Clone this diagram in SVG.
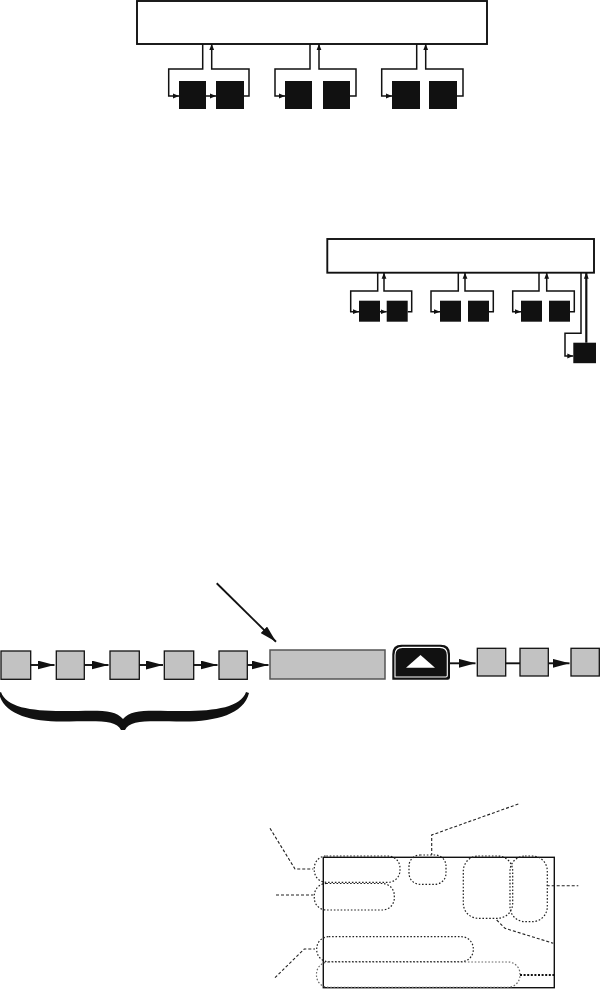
<svg xmlns="http://www.w3.org/2000/svg" width="602" height="989" viewBox="0 0 602 989">
<style>
.box{fill:#fff;stroke:#111;stroke-width:1.9}
.blk{fill:#111;stroke:none}
.ln{fill:none;stroke:#111;stroke-width:1.5}
.gsq{fill:#c2c2c2;stroke:#111;stroke-width:1.3}
.cl{fill:none;stroke:#111;stroke-width:1.9}
.dot{fill:none;stroke:#222;stroke-width:1.2;stroke-dasharray:1.6 1.8}
.dsh{fill:none;stroke:#222;stroke-width:1.1;stroke-dasharray:3 2}
</style>
<defs>
<marker id="sa" viewBox="0 0 6 6" refX="6" refY="3" markerWidth="6" markerHeight="6" markerUnits="userSpaceOnUse" orient="auto">
<path d="M0,0.6 L6,3 L0,5.4 Z" fill="#111"/>
</marker>
<marker id="la" viewBox="0 0 17 9" refX="17" refY="4.5" markerWidth="17" markerHeight="9" markerUnits="userSpaceOnUse" orient="auto">
<path d="M0,0 L17,4.5 L0,9 Z" fill="#111"/>
</marker>
</defs>

<g id="top-diagram">
<rect id="top-box" class="box" x="137" y="1" width="350" height="43"/>
<g id="top-nodes">
<rect class="blk" x="179" y="81" width="27" height="28"/>
<rect class="blk" x="216" y="81" width="28" height="28"/>
<rect class="blk" x="285" y="81" width="27" height="28"/>
<rect class="blk" x="323" y="81" width="27" height="28"/>
<rect class="blk" x="392" y="81" width="28" height="28"/>
<rect class="blk" x="429" y="81" width="28" height="28"/>
</g>
<g id="top-connectors">
<path class="ln" d="M202.7,44 V69 H168.7 V96 H179" marker-end="url(#sa)"/>
<path class="ln" d="M206,96 H216" marker-end="url(#sa)"/>
<path class="ln" d="M244,96 H249 V69 H211.7 V44" marker-end="url(#sa)"/>
<path class="ln" d="M310,44 V69 H275 V96 H285" marker-end="url(#sa)"/>
<path class="ln" d="M350,96 H356 V69 H319 V44" marker-end="url(#sa)"/>
<path class="ln" d="M416.7,44 V69 H381.7 V96 H392" marker-end="url(#sa)"/>
<path class="ln" d="M457,96 H463 V69 H425.7 V44" marker-end="url(#sa)"/>
</g>
</g>

<g id="middle-diagram">
<rect id="mid-box" class="box" x="327.3" y="239" width="266.7" height="33.7"/>
<g id="mid-nodes">
<rect class="blk" x="359" y="300.7" width="21" height="21"/>
<rect class="blk" x="386.7" y="300.7" width="21" height="21"/>
<rect class="blk" x="440" y="300.7" width="21" height="21"/>
<rect class="blk" x="468" y="300.7" width="21" height="21"/>
<rect class="blk" x="521" y="300.7" width="21" height="21"/>
<rect class="blk" x="549" y="300.7" width="21" height="21"/>
<rect class="blk" x="573.3" y="342.7" width="22.7" height="20.5"/>
</g>
<g id="mid-connectors">
<path class="ln" d="M377.7,272.7 V291 H350.7 V311.7 H359" marker-end="url(#sa)"/>
<path class="ln" d="M380,311.7 H386.7" marker-end="url(#sa)"/>
<path class="ln" d="M407.7,311.7 H411.7 V291 H384 V272.7" marker-end="url(#sa)"/>
<path class="ln" d="M458.3,272.7 V291 H431 V311.7 H440" marker-end="url(#sa)"/>
<path class="ln" d="M489,311.7 H493.3 V291 H465 V272.7" marker-end="url(#sa)"/>
<path class="ln" d="M539,272.7 V291 H512.7 V311.7 H521" marker-end="url(#sa)"/>
<path class="ln" d="M570,311.7 H574.3 V291 H546.7 V272.7" marker-end="url(#sa)"/>
<path class="ln" d="M581,272.7 V333.3 H565 V356 H573.3" marker-end="url(#sa)"/>
<path class="ln" style="stroke-width:2.2" d="M586.3,342.7 V272.7" marker-end="url(#sa)"/>
</g>
</g>

<g id="chain">
<g id="chain-nodes">
<rect class="gsq" x="1" y="651" width="29.7" height="28.3"/>
<rect class="gsq" x="56.3" y="651" width="28" height="28.3"/>
<rect class="gsq" x="110" y="651" width="29.3" height="28.3"/>
<rect class="gsq" x="164.3" y="651" width="29.4" height="28.3"/>
<rect class="gsq" x="219" y="651" width="28.3" height="28.3"/>
<rect id="long-rect" x="270" y="650" width="115" height="29" fill="#c2c2c2" stroke="#555" stroke-width="1.5"/>
<g id="button">
<path d="M392.3,679.7 V654 Q392.3,644.7 401.5,644.7 H440.8 Q450,644.7 450,654 V677.5 Q450,679.7 447.8,679.7 Z" fill="#111"/>
<path d="M395,677 V655 Q395,647.4 402.5,647.4 H439.8 Q447.3,647.4 447.3,655 V675.5 Q447.3,677 445.8,677 Z" fill="none" stroke="#fff" stroke-width="1.1"/>
<path d="M406,667.7 L420.5,655 L435,667.7 Z" fill="#fff"/>
</g>
<rect class="gsq" x="477.3" y="648.3" width="28.4" height="27.7"/>
<rect class="gsq" x="520" y="648.3" width="28.3" height="27.7"/>
<rect class="gsq" x="571" y="648.3" width="28.3" height="27.7"/>
</g>
<g id="chain-connectors">
<path class="cl" d="M30.7,665 H54.5" marker-end="url(#la)"/>
<path class="cl" d="M84.3,665 H108.5" marker-end="url(#la)"/>
<path class="cl" d="M139.3,665 H163" marker-end="url(#la)"/>
<path class="cl" d="M193.7,665 H217.5" marker-end="url(#la)"/>
<path class="cl" d="M247.3,665 H268.5" marker-end="url(#la)"/>
<path class="cl" d="M216.7,583.3 L276,641.7" marker-end="url(#la)"/>
<path class="cl" d="M450,663.3 H475.5" marker-end="url(#la)"/>
<path class="cl" d="M505.7,663.3 H520"/>
<path class="cl" d="M548.3,663.3 H569.5" marker-end="url(#la)"/>
</g>
<path id="brace" fill="#111" d="M1,692 C6,707 30,711 62,711 C95,711 114,708 123,719 C132,708 151,711 184,711 C216,711 241,707 246,692 L249,693 C244,714 216,721.5 184,721.5 C150,721.5 130,719 125,730 L121,730 C116,719 96,721.5 62,721.5 C30,721.5 3,714 -1,693 Z"/>
</g>

<g id="bottom-diagram">
<rect id="panel" x="323.3" y="857.3" width="231" height="130.4" fill="none" stroke="#111" stroke-width="1.4"/>
<g id="callouts">
<rect class="dot" x="314.3" y="856" width="85.7" height="26.3" rx="12"/>
<rect class="dot" x="314.3" y="883.5" width="80" height="26.5" rx="12"/>
<rect class="dot" x="409" y="855" width="37" height="29.3" rx="11"/>
<rect class="dot" x="316.7" y="936.7" width="156.6" height="25" rx="12"/>
<rect class="dot" x="316.5" y="962" width="203.5" height="25.3" rx="12" style="stroke:#666"/>
<rect class="dot" x="463.3" y="856" width="49.4" height="62.3" rx="15"/>
<rect class="dot" x="510" y="856" width="37.3" height="65.7" rx="15"/>
</g>
<g id="leaders">
<path class="dsh" d="M270,828.3 L295,869 H313.3"/>
<path class="dsh" d="M276,895 H313.3"/>
<path class="dsh" d="M275,977.7 L304.3,949 H315"/>
<path class="dsh" d="M518.3,804 L431.7,835 V855"/>
<path class="dsh" d="M546.7,885.7 H578.3"/>
<path class="dsh" d="M496.7,920 L505,928.3 L553.3,943.3"/>
<path d="M520,975 H555" fill="none" stroke="#111" stroke-width="1.8" stroke-dasharray="2 1.6"/>
</g>
</g>
</svg>
